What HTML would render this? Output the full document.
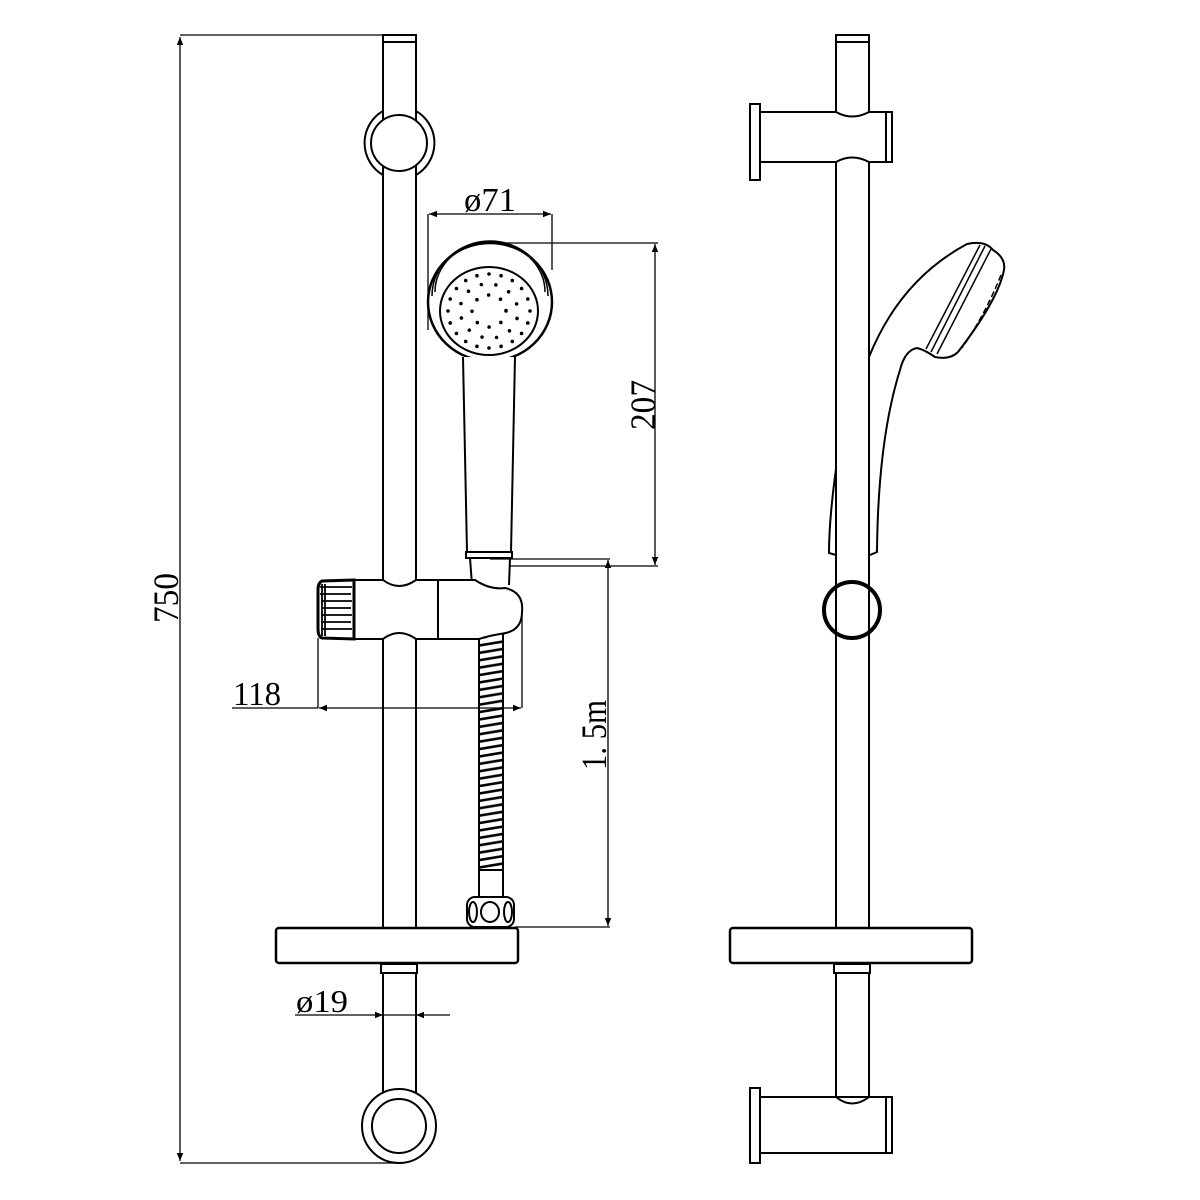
<!DOCTYPE html>
<html><head><meta charset="utf-8"><style>
html,body{margin:0;padding:0;background:#fff}
svg{display:block}
text{font-family:"Liberation Serif",serif;fill:#000}
</style></head><body>
<svg width="1200" height="1200" viewBox="0 0 1200 1200" xmlns="http://www.w3.org/2000/svg">
<defs>
<marker id="a" viewBox="0 0 10 10" refX="10" refY="5" markerWidth="14" markerHeight="8" markerUnits="userSpaceOnUse" orient="auto-start-reverse"><path d="M0,1 L10,5 L0,9z" fill="#000"/></marker>
<pattern id="sp" patternUnits="userSpaceOnUse" x="479" y="640" width="24" height="7.4">
<line x1="0" y1="5.5" x2="24" y2="1.5" stroke="#000" stroke-width="2.6"/>
</pattern>
</defs>
<g fill="none" stroke="#000" stroke-width="2">
<rect x="383" y="35" width="33" height="7" fill="#fff"/>
<line x1="383" y1="42" x2="383" y2="580"/><line x1="416" y1="42" x2="416" y2="580"/>
<line x1="383" y1="639" x2="383" y2="928"/><line x1="416" y1="639" x2="416" y2="928"/>
<path d="M383,111 A37,37 0 0 0 383,175" />
<path d="M416,111 A37,37 0 0 1 416,175" />
<circle cx="399" cy="143" r="28" fill="#fff"/>
<rect x="276" y="928" width="242" height="35" rx="3" stroke-width="2.5" fill="#fff"/>
<rect x="381" y="964" width="36" height="9"/>
<line x1="383" y1="973" x2="383" y2="1100"/><line x1="416" y1="973" x2="416" y2="1100"/>
<circle cx="399" cy="1126" r="37" fill="#fff"/>
<circle cx="399" cy="1126" r="27"/>
<ellipse cx="490" cy="302" rx="62" ry="59" stroke-width="2.5"/>
<path d="M432,296 A58,55 0 0 1 548,296" stroke-width="1.5"/>
<path d="M435,292 A55,50 0 0 1 545,292" stroke-width="1.5"/>
<ellipse cx="489" cy="311" rx="49" ry="44"/>
<path d="M463,357 L467,552 L511,552 L515,357" fill="#fff"/>
<rect x="466" y="552" width="46" height="6"/>
<path d="M470,558 L472,585 M510,558 L509,585"/>
<path d="M354,580 L383,580 Q399,592 416,580 L475,580 Q490,590 505,588 Q524,592 522,612 Q522,632 500,634 Q488,636 479,639 L416,639 Q399,627 383,639 L354,639 Z" fill="#fff"/>
<line x1="438" y1="580" x2="438" y2="639"/>
<path d="M354,580 L322,581 Q318,583 318,590 L318,628 Q318,637 322,638 L354,639 Z" fill="#fff" stroke-width="3"/>
<g stroke-width="1.8">
<path d="M320,587H352M320,594H351M321,601H352M321,608H351M321,615H352M321,622H351M321,629H352"/>
<path d="M322,584V636M325,584V636"/>
</g>
<rect x="479" y="638" width="24" height="232" fill="url(#sp)" stroke="none"/>
<line x1="479" y1="639" x2="479" y2="870"/><line x1="503" y1="634" x2="503" y2="870"/>
<rect x="479" y="870" width="24" height="27" fill="#fff"/>
<rect x="467" y="897" width="47" height="30" rx="8" fill="#fff"/>
<ellipse cx="490" cy="912" rx="9" ry="10"/>
<ellipse cx="473" cy="912" rx="4" ry="10"/>
<ellipse cx="508" cy="912" rx="4" ry="10"/>

<rect x="836" y="35" width="33" height="7" fill="#fff"/>
<line x1="836" y1="42" x2="836" y2="112"/><line x1="869" y1="42" x2="869" y2="112"/>
<rect x="750" y="104" width="10" height="76"/>
<path d="M760,112 L836,112 Q852,121 869,112 L886,112 L886,162 L869,162 Q852,153 836,162 L760,162"/>
<rect x="886" y="112" width="6" height="50"/>
<line x1="836" y1="162" x2="836" y2="928"/><line x1="869" y1="162" x2="869" y2="928"/>
<path d="M869,357 Q900,280 967,244 Q985,240 993,250 Q1006,258 1004,270 Q998,300 958,352 Q950,360 935,357 Q925,350 917,348 Q905,350 900,370 Q878,440 877,552 L870,555"/>
<path d="M991,249 L937,354 M985,246 L931,352 M980,245 L926,349" stroke-width="1.5"/>
<path d="M1001,275 Q985,315 962,348" stroke-width="1.5" stroke-dasharray="6,3"/>
<path d="M836,469 Q829,520 829,553 L836,555"/>
<circle cx="852" cy="610" r="28" stroke-width="4"/>
<rect x="730" y="928" width="242" height="35" rx="3" stroke-width="2.5" fill="#fff"/>
<rect x="834" y="964" width="36" height="9"/>
<path d="M836,973 L836,1097 Q852,1110 869,1097 L869,973"/>
<rect x="750" y="1088" width="10" height="75"/>
<path d="M760,1097 L886,1097 L886,1153 L760,1153"/>
<rect x="886" y="1097" width="6" height="56"/>
</g>
<g fill="none" stroke="#000" stroke-width="3.6" stroke-linecap="round" stroke-dasharray="0 1">
<ellipse cx="489" cy="311" rx="17" ry="16" pathLength="8"/>
<ellipse cx="489" cy="311" rx="29" ry="27" pathLength="12" transform="rotate(15 489 311)"/>
<ellipse cx="489" cy="311" rx="41" ry="37" pathLength="20"/>
</g>
<g stroke="#000" stroke-width="1.3" fill="none">
<line x1="180" y1="35" x2="383" y2="35"/>
<line x1="180" y1="1163" x2="399" y2="1163"/>
<line x1="180" y1="37" x2="180" y2="1161" marker-start="url(#a)" marker-end="url(#a)"/>
<line x1="428" y1="214" x2="428" y2="330"/><line x1="552" y1="214" x2="552" y2="270"/>
<line x1="429" y1="214" x2="551" y2="214" marker-start="url(#a)" marker-end="url(#a)"/>
<line x1="490" y1="243" x2="658" y2="243"/><line x1="510" y1="566" x2="658" y2="566"/>
<line x1="655" y1="244" x2="655" y2="565" marker-start="url(#a)" marker-end="url(#a)"/>
<line x1="318" y1="638" x2="318" y2="708"/><line x1="522" y1="615" x2="522" y2="708"/>
<line x1="232" y1="708" x2="318" y2="708"/>
<line x1="319" y1="708" x2="521" y2="708" marker-start="url(#a)" marker-end="url(#a)"/>
<line x1="490" y1="559" x2="610" y2="559"/><line x1="515" y1="927" x2="610" y2="927"/>
<line x1="608" y1="560" x2="608" y2="926" marker-start="url(#a)" marker-end="url(#a)"/>
<line x1="295" y1="1015" x2="383" y2="1015" marker-end="url(#a)"/>
<line x1="450" y1="1015" x2="416" y2="1015" marker-end="url(#a)"/>
<line x1="383" y1="1015" x2="416" y2="1015"/>
</g>
<text x="0" y="0" font-size="36" transform="translate(178,598) rotate(-90)" text-anchor="middle" textLength="50" lengthAdjust="spacingAndGlyphs">750</text>
<text x="490" y="211" font-size="34" text-anchor="middle" textLength="52" lengthAdjust="spacingAndGlyphs">ø71</text>
<text x="0" y="0" font-size="36" transform="translate(655,405) rotate(-90)" text-anchor="middle" textLength="50" lengthAdjust="spacingAndGlyphs">207</text>
<text x="257" y="705" font-size="34" text-anchor="middle" textLength="48" lengthAdjust="spacingAndGlyphs">118</text>
<text x="0" y="0" font-size="36" transform="translate(606,735) rotate(-90)" text-anchor="middle" textLength="70" lengthAdjust="spacingAndGlyphs">1. 5m</text>
<text x="322" y="1012" font-size="32" text-anchor="middle" textLength="52" lengthAdjust="spacingAndGlyphs">ø19</text>
</svg>
</body></html>
